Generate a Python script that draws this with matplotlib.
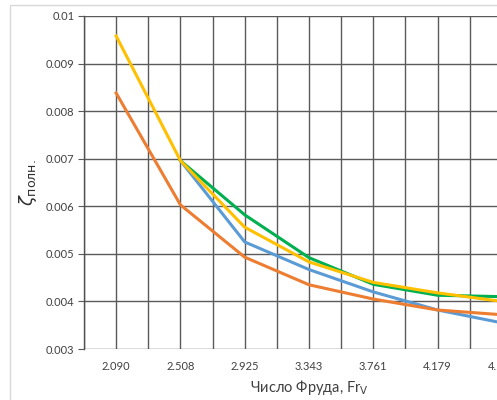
import numpy as np
import matplotlib
matplotlib.use('Agg')
import matplotlib.pyplot as plt
from matplotlib.patches import Rectangle

plt.rcParams['font.family'] = ['Lato', 'DejaVu Sans']
plt.rcParams['mathtext.fontset'] = 'dejavusans'

# data
froude = ['2.090', '2.508', '2.925', '3.343', '3.761', '4.179', '4.597']
blue = [np.nan, 0.00696, 0.00525, 0.00467, 0.00420, 0.00382, 0.00355]
orange = [0.00838, 0.00603, 0.00493, 0.00435, 0.00405, 0.00382, 0.00372]
green = [np.nan, 0.00696, 0.00582, 0.00492, 0.00436, 0.00413, 0.00410]
yellow = [0.00958, 0.00696, 0.00556, 0.00483, 0.00440, 0.00418, 0.00400]
y_ticks = [0.003, 0.004, 0.005, 0.006, 0.007, 0.008, 0.009, 0.01]
y_labels = ['0.003', '0.004', '0.005', '0.006', '0.007', '0.008', '0.009', '0.01']

fig = plt.figure(figsize=(4.97, 4.0), dpi=100)
# chart border (cropped on the right and bottom)
fig.patches.append(Rectangle((10 / 497, -0.1), 1.2, (395 / 400) + 0.1,
                             transform=fig.transFigure, fill=False,
                             edgecolor='#d9d9d9', lw=1))

# plot area runs past the right edge of the picture
ax = fig.add_axes([84 / 497, 51 / 400, 450 / 497, 333 / 400])
x = np.arange(len(froude))

ax.plot(x, blue, color='#5B9BD5', lw=2.2)
ax.plot(x, orange, color='#ED7D31', lw=2.2)
ax.plot(x, green, color='#00B050', lw=2.2)
ax.plot(x, yellow, color='#FFC000', lw=2.2)

ax.set_xlim(-0.5, len(froude) - 0.5)
ax.set_ylim(0.003, 0.01)
ax.set_yticks(y_ticks)
ax.set_yticklabels(y_labels)
ax.set_xticks(x)
ax.set_xticklabels(froude)
ax.set_xticks(list(x[:-1] + 0.5) + [-0.5], minor=True)

ax.grid(True, which='major', color='#5a5a5a', lw=1.0)
ax.grid(True, which='minor', axis='x', color='#5a5a5a', lw=1.0)
ax.set_axisbelow(True)
for s in ['top', 'right', 'bottom']:
    ax.spines[s].set_visible(False)
ax.spines['left'].set_color('#505050')
ax.spines['left'].set_linewidth(1.0)

ax.tick_params(axis='y', length=4, color='#5a5a5a', labelsize=8, labelcolor='#404040', pad=3)
ax.tick_params(axis='x', which='both', length=0, labelsize=8, labelcolor='#404040', pad=9)

ax.set_xlabel('Число Фруда, Fr$_\\mathrm{V}$', fontsize=10.5, color='#404040', labelpad=4)
ax.set_ylabel('$\\zeta_{\\mathrm{полн.}}$', fontsize=13, color='#303030', labelpad=5)

fig.savefig('out.png', dpi=100)
